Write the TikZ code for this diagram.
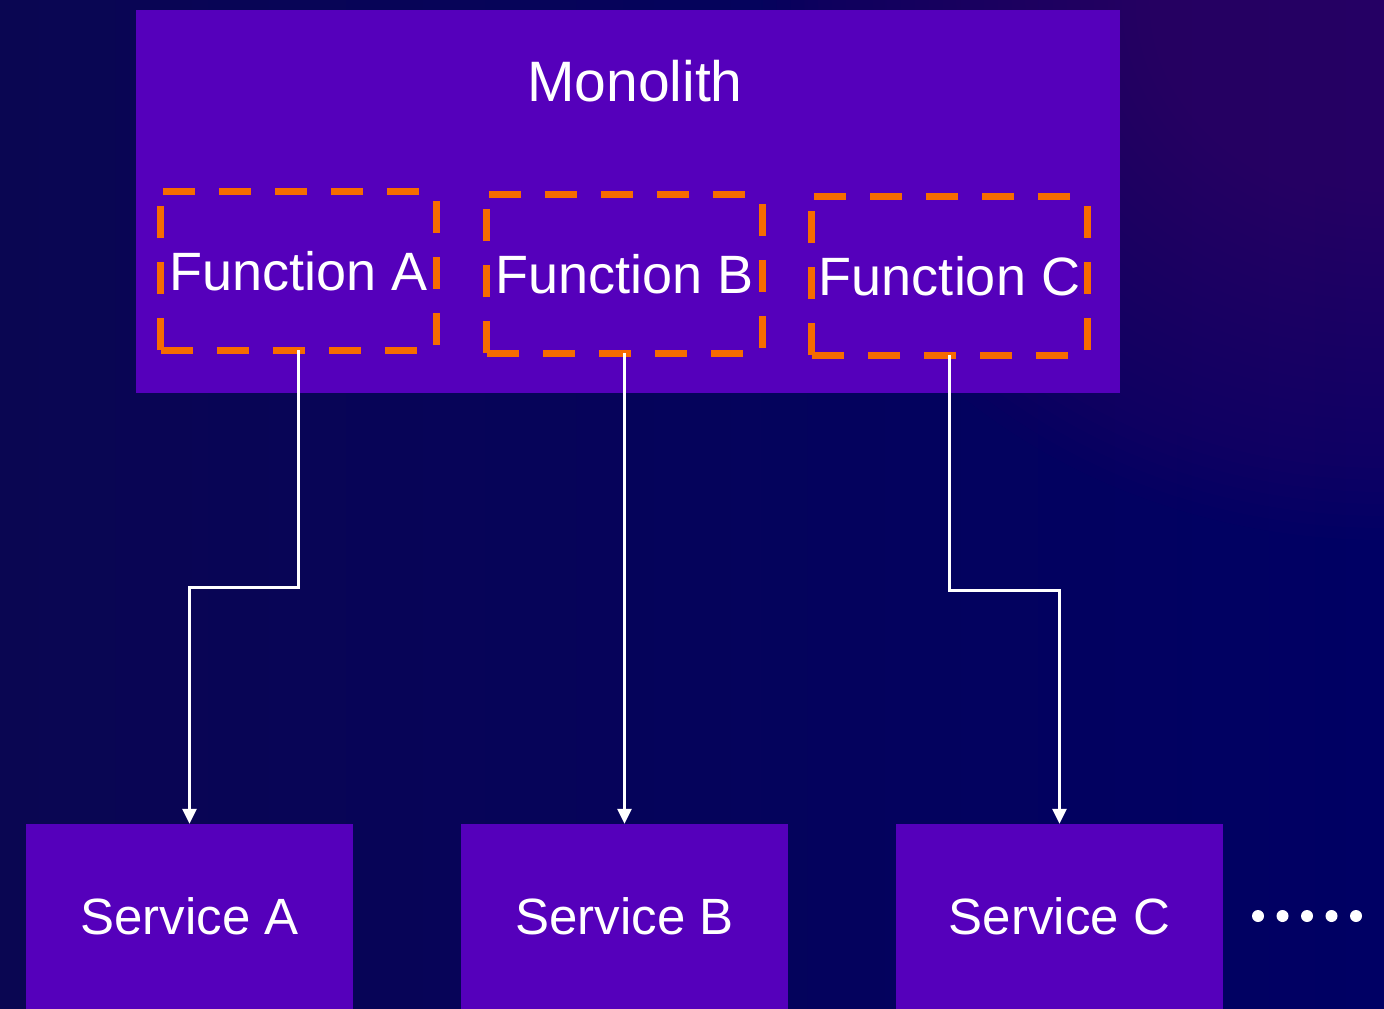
\documentclass[tikz,border=0pt]{standalone}
\usepackage{fontspec}
\setmainfont{Liberation Sans}
\usetikzlibrary{arrows.meta}
\definecolor{bgleft}{HTML}{0A0652}
\definecolor{bgright}{HTML}{000064}
\definecolor{bgpurple}{HTML}{3C006C}
\definecolor{monofill}{HTML}{5500BB}
\definecolor{orangedash}{HTML}{F76B00}
\begin{document}
\begin{tikzpicture}[x=1pt,y=-1pt,
  monobox/.style={fill=monofill, draw=none, inner sep=0pt},
  titletext/.style={text=white, inner sep=0pt, font=\fontsize{57}{64}\selectfont},
  funcbox/.style={draw=none, text=white, inner sep=0pt, minimum width=275pt, minimum height=158pt, font=\fontsize{54}{60}\selectfont},
  dashside/.style={draw=orangedash, line width=7pt, dash pattern=on 32pt off 24pt},
  svcbox/.style={fill=monofill, draw=none, text=white, inner sep=0pt, minimum width=327pt, minimum height=185pt, font=\fontsize{51}{58}\selectfont},
  flow/.style={draw=white, line width=3pt, -{Triangle[length=15pt,width=14pt]}},
  dotmark/.style={fill=white},
  glow/.style={fill=bgpurple, opacity=0.045}]
\useasboundingbox (0,0) rectangle (1384,1009);
\begin{scope}
  \clip (0,0) rectangle (1384,1009);
  \fill[left color=bgleft, right color=bgright] (0,0) rectangle (1384,1009);
  \foreach \r in {12,24,...,540}
    \fill[glow] (1384,0) ellipse [x radius={1.15*\r}, y radius={\r}];
\end{scope}
% monolith
\node[monobox, minimum width=984pt, minimum height=383pt] (mono) at (628,201.5) {};
\node[titletext] (monotitle) at (635,81) {Monolith};
% functions
\node[funcbox] (fa) at (298.5,271) {Function A};
\node[funcbox] (fb) at (624.5,274) {Function B};
\node[funcbox] (fc) at (949.5,276) {Function C};
\foreach \f in {fa,fb,fc}{
  \draw[dashside] ([xshift=2pt]\f.north west) -- (\f.north east);
  \draw[dashside] ([yshift=-9pt]\f.north east) -- (\f.south east);
  \draw[dashside] (\f.south west) -- (\f.south east);
  \draw[dashside] (\f.south west) -- (\f.north west);
}
% services
\node[svcbox] (sa) at (189.5,916.5) {Service A};
\node[svcbox] (sb) at (624.5,916.5) {Service B};
\node[svcbox] (sc) at (1059.5,916.5) {Service C};
% connectors
\draw[flow] (fa.south) -- ++(0,237) -| (sa.north);
\draw[flow] (fb.south) -- (sb.north);
\draw[flow] (fc.south) -- ++(0,235) -| (sc.north);
% ellipsis dots
\foreach \x in {1258,1282.5,1307,1331.5,1356}
  \fill[dotmark] (\x,916) circle (6pt);
\end{tikzpicture}
\end{document}
